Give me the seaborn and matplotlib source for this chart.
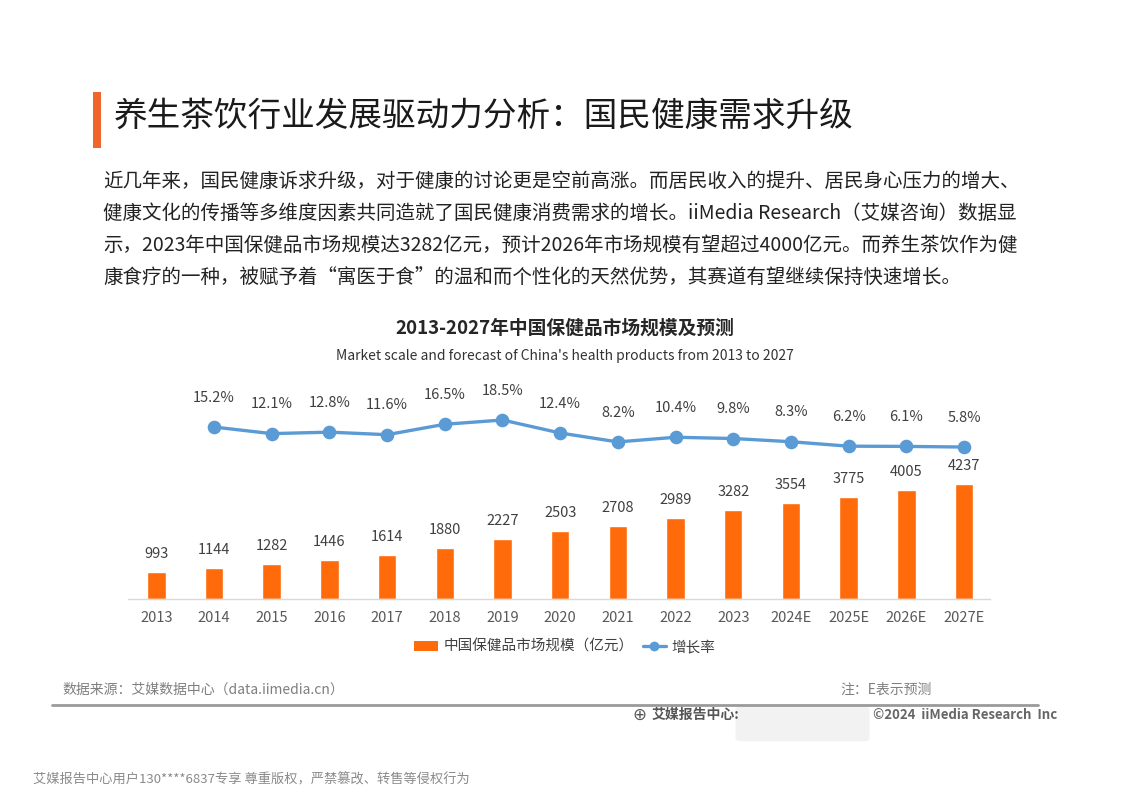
import matplotlib as mpl
mpl.use('Agg')
import matplotlib.pyplot as plt
from matplotlib.patches import Rectangle, Patch, FancyBboxPatch
from matplotlib.lines import Line2D
import numpy as np
import pandas as pd
import seaborn as sns

# data
years = ['2013', '2014', '2015', '2016', '2017', '2018', '2019', '2020',
         '2021', '2022', '2023', '2024E', '2025E', '2026E', '2027E']
market_size = [993, 1144, 1282, 1446, 1614, 1880, 2227, 2503,
               2708, 2989, 3282, 3554, 3775, 4005, 4237]
growth_years = years[1:]
growth_rate = [15.2, 12.1, 12.8, 11.6, 16.5, 18.5, 12.4, 8.2,
               10.4, 9.8, 8.3, 6.2, 6.1, 5.8]

title = '养生茶饮行业发展驱动力分析：国民健康需求升级'
paragraph = [
    '近几年来，国民健康诉求升级，对于健康的讨论更是空前高涨。而居民收入的提升、居民身心压力的增大、',
    '健康文化的传播等多维度因素共同造就了国民健康消费需求的增长。iiMedia Research（艾媒咨询）数据显',
    '示，2023年中国保健品市场规模达3282亿元，预计2026年市场规模有望超过4000亿元。而养生茶饮作为健',
    '康食疗的一种，被赋予着“寓医于食”的温和而个性化的天然优势，其赛道有望继续保持快速增长。',
]
chart_title = '2013-2027年中国保健品市场规模及预测'
chart_sub = "Market scale and forecast of China's health products from 2013 to 2027"
bar_label = '中国保健品市场规模（亿元）'
line_label = '增长率'

ORANGE = '#FF6A0A'
BLUE = '#5B9BD5'
GREY = '#595959'

sns.set_theme(style='white')
plt.rcParams['font.family'] = ['Noto Sans CJK SC', 'DejaVu Sans']

W, H = 1123, 794
fig = plt.figure(figsize=(W / 100, H / 100), dpi=100)
fig.patch.set_facecolor('white')


def px(x, y):
    return x / W, 1 - y / H


# header
fig.patches.append(Rectangle(px(93, 148), 8 / W, 56 / H, transform=fig.transFigure,
                             facecolor='#F0652A', edgecolor='none'))
fig.text(*px(114, 116), title, fontsize=24.2, color='#1a1a1a', va='center', ha='left')
for i, line in enumerate(paragraph):
    fig.text(*px(103, 181 + 32 * i), line, fontsize=14, color='#222222', va='center', ha='left')

fig.text(*px(565, 328), chart_title, fontsize=13.5, fontweight='bold', color='#262626',
         ha='center', va='center')
fig.text(*px(565, 356), chart_sub, fontsize=10, color='#333333', ha='center', va='center')

# chart axes
left, bottom = px(128, 599)
right, top = px(990, 390)
ax = fig.add_axes([left, bottom, right - left, top - bottom])

df_bar = pd.DataFrame({'year': years, 'size': market_size})
sns.barplot(data=df_bar, x='year', y='size', order=years, color=ORANGE,
            saturation=1, width=0.32, ax=ax)
ax.bar_label(ax.containers[0], labels=[str(v) for v in market_size], padding=8,
             fontsize=10.5, color='#404040')
ax.set_ylim(0, 7712)
ax.set_xlim(-0.49, 14.45)

ax2 = ax.twinx()
df_line = pd.DataFrame({'year': growth_years, 'rate': growth_rate})
sns.pointplot(data=df_line, x='year', y='rate', order=years, color=BLUE,
              markers='o', markersize=8, linewidth=2.4, errorbar=None, ax=ax2)
ax2.set_ylim(-65.6, 32.6)
for yr, r in zip(growth_years, growth_rate):
    ax2.annotate(f'{r}%', (years.index(yr), r), xytext=(0, 16), textcoords='offset points',
                 ha='center', va='bottom', fontsize=10.5, color='#404040')

for a in (ax, ax2):
    a.set_xlabel('')
    a.set_ylabel('')
    a.set_yticks([])
    for s in a.spines.values():
        s.set_visible(False)
ax.spines['bottom'].set_visible(True)
ax.spines['bottom'].set_color('#D9D9D9')
ax.spines['bottom'].set_linewidth(1)
ax.tick_params(axis='x', length=0, pad=9, labelsize=10.5, labelcolor=GREY)
ax2.set_xlim(-0.49, 14.45)

handles = [Patch(facecolor=ORANGE, edgecolor='none'),
           Line2D([0], [0], color=BLUE, lw=2.4, marker='o', markersize=6)]
fig.legend(handles, [bar_label, line_label], loc='center', bbox_to_anchor=px(565, 647),
           ncol=2, frameon=False, fontsize=10.5, handlelength=1.6, columnspacing=0.6,
           handletextpad=0.4, labelcolor='#404040')

# footer
fig.text(*px(62, 690), '数据来源：艾媒数据中心（data.iimedia.cn）', fontsize=10, color='#7f7f7f',
         va='center')
fig.text(*px(840, 690), '注：E表示预测', fontsize=10, color='#7f7f7f', va='center')
fig.lines.append(Line2D([52 / W, 1038 / W], [1 - 705 / H] * 2, transform=fig.transFigure,
                        color='#9a9a9a', lw=2))
fig.text(*px(632, 715), '⊕', fontsize=12, color='#555555', va='center', family=['DejaVu Sans'])
fig.text(*px(652, 715), '艾媒报告中心:', fontsize=10, color='#555555', va='center',
         fontweight='bold')
fig.patches.append(FancyBboxPatch(px(740, 738), 125 / W, 28 / H, transform=fig.transFigure,
                                  boxstyle='round,pad=0.004', facecolor='#F2F2F2',
                                  edgecolor='none'))
fig.text(*px(873, 715), '©2024  iiMedia Research  Inc', fontsize=9.5, color='#666666',
         va='center', fontweight='bold')
fig.text(*px(33, 780), '艾媒报告中心用户130****6837专享 尊重版权，严禁篡改、转售等侵权行为',
         fontsize=9.5, color='#8a8a8a', va='center')

fig.savefig('out.png', dpi=100)
